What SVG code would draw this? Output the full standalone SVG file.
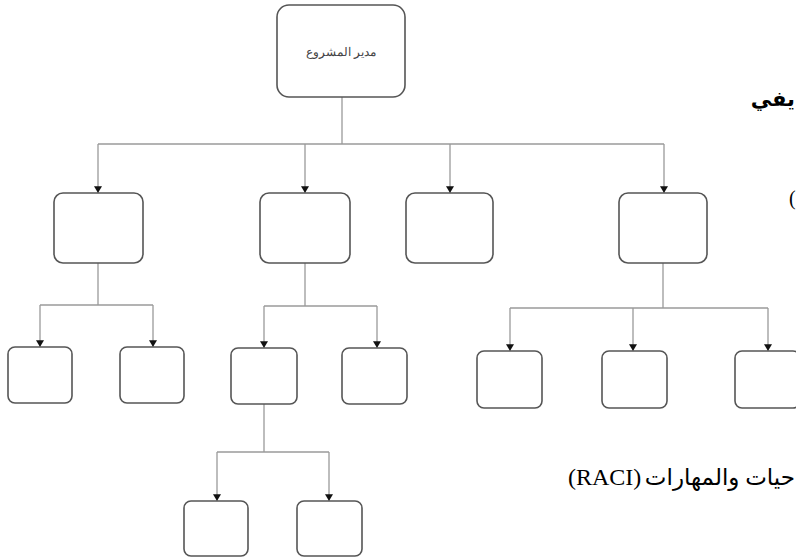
<svg xmlns="http://www.w3.org/2000/svg" width="796" height="557" viewBox="0 0 796 557">
  <style>
    .box { fill: #ffffff; stroke: #555555; stroke-width: 1.6; }
    .link { fill: none; stroke: #9a9a9a; stroke-width: 1.3; }
    .drop { fill: none; stroke: #9a9a9a; stroke-width: 1.3; marker-end: url(#arrow); }
    .label { font-family: "Liberation Sans", Arial, sans-serif; font-size: 12px; fill: #444444; text-anchor: middle; }
    .body { font-family: "Liberation Serif", "Times New Roman", "DejaVu Sans", serif; fill: #000000; }
  </style>
  <defs>
    <!-- small filled head, drawn pointing along the line direction -->
    <marker id="arrow" markerUnits="userSpaceOnUse" markerWidth="8" markerHeight="8" refX="6" refY="3.5" orient="auto" viewBox="0 0 7 7">
      <path d="M0,0 L6,3.5 L0,7 z" fill="#111111"/>
    </marker>
  </defs>

  <rect width="796" height="557" fill="#ffffff"/>

  <!-- connectors -->
  <g id="connectors">
    <!-- project manager to first level -->
    <path class="link" d="M342,97 V144 M98,144 H664"/>
    <path class="drop" d="M98,144 V193"/>
    <path class="drop" d="M305,144 V193"/>
    <path class="drop" d="M450,144 V193"/>
    <path class="drop" d="M664,144 V193"/>
    <!-- unit A -->
    <path class="link" d="M98,263 V305 M40,305 H153"/>
    <path class="drop" d="M40,305 V347"/>
    <path class="drop" d="M153,305 V347"/>
    <!-- unit B -->
    <path class="link" d="M305,263 V306 M264,306 H377"/>
    <path class="drop" d="M264,306 V348"/>
    <path class="drop" d="M377,306 V348"/>
    <!-- unit D -->
    <path class="link" d="M663,263 V308 M510,308 H768"/>
    <path class="drop" d="M510,308 V351"/>
    <path class="drop" d="M633,308 V351"/>
    <path class="drop" d="M768,308 V351"/>
    <!-- sub-unit B1 -->
    <path class="link" d="M264,404 V452 M217,452 H329"/>
    <path class="drop" d="M217,452 V501"/>
    <path class="drop" d="M329,452 V501"/>
  </g>

  <!-- nodes -->
  <g id="manager">
    <rect class="box" x="277" y="5" width="128" height="92" rx="12"/>
    <text class="label" x="341" y="56" direction="rtl">مدير المشروع</text>
  </g>
  <g id="unit-a"><rect class="box" x="54" y="193" width="89" height="70" rx="9"/></g>
  <g id="unit-b"><rect class="box" x="260" y="193" width="90" height="70" rx="9"/></g>
  <g id="unit-c"><rect class="box" x="406" y="193" width="87" height="70" rx="9"/></g>
  <g id="unit-d"><rect class="box" x="619" y="193" width="88" height="70" rx="9"/></g>

  <g id="unit-a1"><rect class="box" x="8" y="347" width="64" height="56" rx="7"/></g>
  <g id="unit-a2"><rect class="box" x="120" y="347" width="64" height="56" rx="7"/></g>
  <g id="unit-b1"><rect class="box" x="231" y="348" width="66" height="56" rx="7"/></g>
  <g id="unit-b2"><rect class="box" x="342" y="348" width="65" height="56" rx="7"/></g>
  <g id="unit-d1"><rect class="box" x="477" y="351" width="65" height="57" rx="7"/></g>
  <g id="unit-d2"><rect class="box" x="602" y="351" width="65" height="57" rx="7"/></g>
  <g id="unit-d3"><rect class="box" x="735" y="351" width="65" height="57" rx="7"/></g>

  <g id="unit-b1a"><rect class="box" x="184" y="501" width="64" height="55" rx="7"/></g>
  <g id="unit-b1b"><rect class="box" x="297" y="501" width="65" height="55" rx="7"/></g>

  <!-- surrounding page text at the right margin -->
  <text class="body" x="795" y="106" font-size="21" font-weight="bold" direction="rtl" text-anchor="start">يفي</text>
  <text class="body" x="789" y="205" font-size="20">(</text>
  <text class="body" x="568" y="485" font-size="24">(RACI)</text>
  <text class="body" x="795" y="485" font-size="23" direction="rtl" text-anchor="start">حيات والمهارات</text>
</svg>
